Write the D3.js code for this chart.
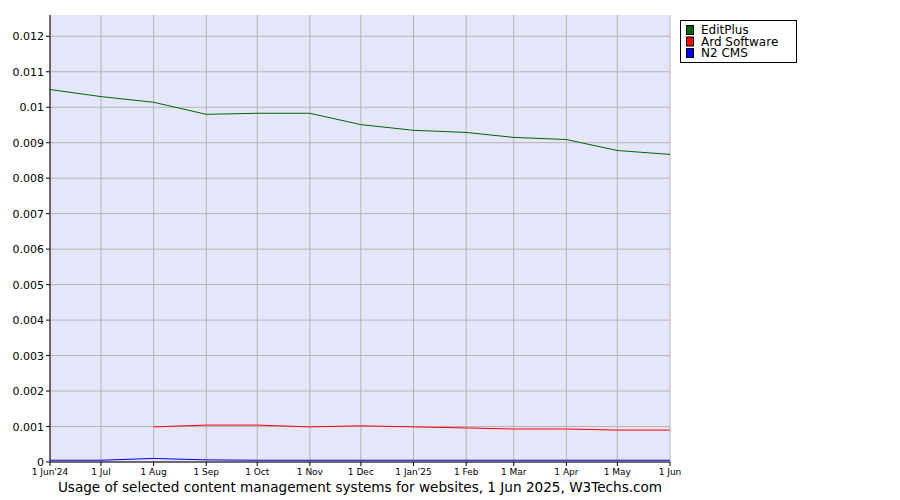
<!DOCTYPE html><html><head><meta charset="utf-8"><script src="https://cdn.jsdelivr.net/npm/d3@7"></script>
<style>body{margin:0;background:#fff}text{font-family:"DejaVu Sans",sans-serif}</style></head><body><svg id="c" width="900" height="500"></svg><script>
const months=["2024-06-01","2024-07-01","2024-08-01","2024-09-01","2024-10-01","2024-11-01","2024-12-01","2025-01-01","2025-02-01","2025-03-01","2025-04-01","2025-05-01","2025-06-01"];
const tickLabels=["1 Jun'24","1 Jul","1 Aug","1 Sep","1 Oct","1 Nov","1 Dec","1 Jan'25","1 Feb","1 Mar","1 Apr","1 May","1 Jun"];
const editPlus=[0.01050,0.01030,0.01014,0.00980,0.00983,0.00983,0.00951,0.00935,0.00929,0.00915,0.00909,0.00878,0.00867];
const ardSoftware=[null,null,0.00099,0.00104,0.00104,0.00099,0.00102,0.00099,0.00096,0.00093,0.00093,0.00090,0.00090];
const n2cms=[0.00005,0.00005,0.00010,0.00006,0.00005,0.00005,0.00005,0.00005,0.00005,0.00005,0.00005,0.00005,0.00005];
const yTicks=[0,0.001,0.002,0.003,0.004,0.005,0.006,0.007,0.008,0.009,0.01,0.011,0.012];
const series=[{name:"EditPlus",color:"#006400",vals:editPlus},{name:"Ard Software",color:"#ff0000",vals:ardSoftware},{name:"N2 CMS",color:"#0000ff",vals:n2cms}];
const svg=d3.select("#c");
const pd=months.map(d=>new Date(d+"T00:00:00"));
const x=d3.scaleTime().domain([pd[0],pd[12]]).range([50,670]);
const y=d3.scaleLinear().domain([0,0.0126]).range([462,15]);
svg.append("rect").attr("x",50).attr("y",15).attr("width",620).attr("height",447).attr("fill","#e6e6fa");
const g=svg.append("g");
yTicks.forEach(t=>{g.append("line").attr("x1",50).attr("x2",670).attr("y1",y(t)).attr("y2",y(t)).attr("stroke","#b4b4b4");
 g.append("text").attr("x",44).attr("y",y(t)+4).attr("text-anchor","end").attr("font-size",11).text(t===0?"0":String(t));
 g.append("line").attr("x1",46).attr("x2",50).attr("y1",y(t)).attr("y2",y(t)).attr("stroke","#000");});
pd.forEach((d,i)=>{g.append("line").attr("x1",x(d)).attr("x2",x(d)).attr("y1",15).attr("y2",462).attr("stroke","#b4b4b4");
 g.append("line").attr("x1",x(d)).attr("x2",x(d)).attr("y1",462).attr("y2",466).attr("stroke","#000");
 g.append("text").attr("x",x(d)).attr("y",475).attr("text-anchor","middle").attr("font-size",9).text(tickLabels[i]);});
g.append("line").attr("x1",50).attr("x2",50).attr("y1",15).attr("y2",462).attr("stroke","#000");
g.append("line").attr("x1",50).attr("x2",670).attr("y1",462).attr("y2",462).attr("stroke","#000");
const line=d3.line().defined(v=>v!=null).x((v,i)=>x(pd[i])).y(v=>y(v));
series.forEach(s=>svg.append("path").attr("d",line(s.vals)).attr("fill","none").attr("stroke",s.color).attr("stroke-width",1));
const lg=svg.append("g");
lg.append("rect").attr("x",680.5).attr("y",20.5).attr("width",116).attr("height",42).attr("fill","#fff").attr("stroke","#000");
series.forEach((s,i)=>{lg.append("rect").attr("x",686.5).attr("y",25.5+i*11.5).attr("width",7).attr("height",9).attr("fill",s.color).attr("stroke","#000");
 lg.append("text").attr("x",701).attr("y",34+i*11.5).attr("font-size",12).text(s.name);});
svg.append("text").attr("x",360).attr("y",492).attr("text-anchor","middle").attr("font-size",13.6).text("Usage of selected content management systems for websites, 1 Jun 2025, W3Techs.com");
</script></body></html>
